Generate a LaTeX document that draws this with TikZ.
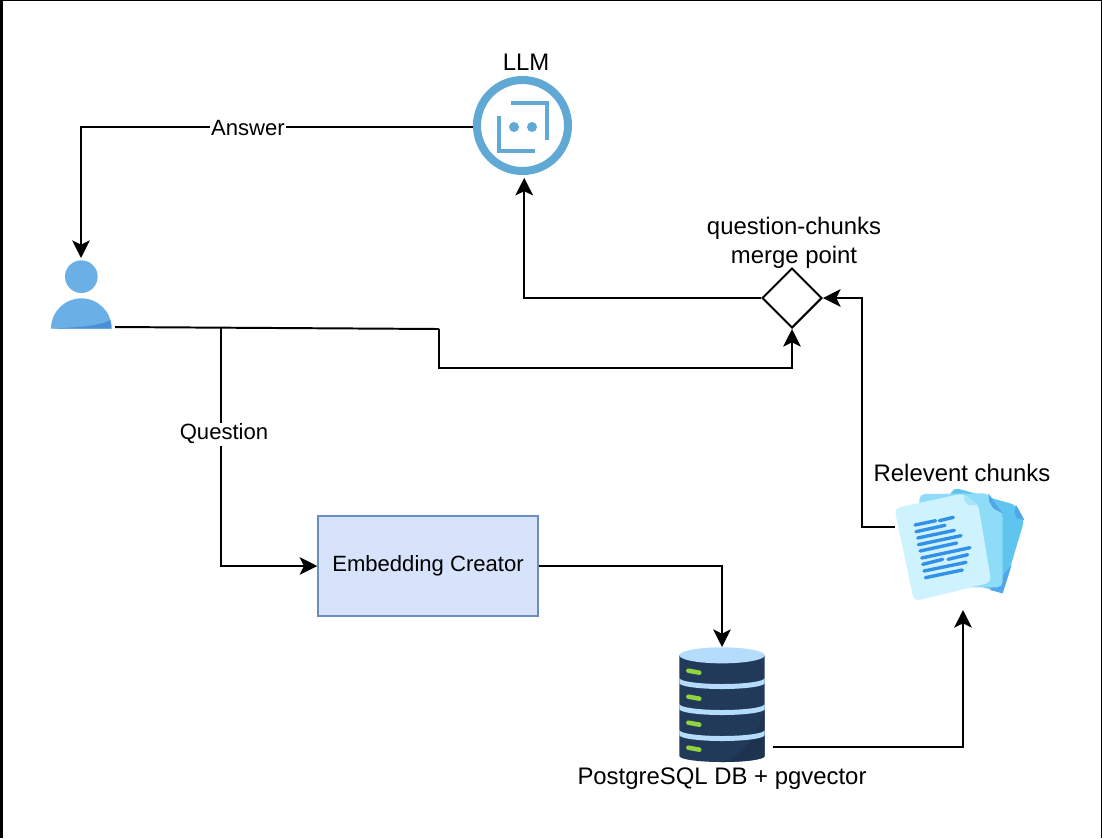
\documentclass[tikz,border=0pt]{standalone}
\usepackage{fontspec}
\setmainfont{Liberation Sans}
\usetikzlibrary{arrows.meta,shapes.geometric}
\definecolor{llmblue}{HTML}{60A9D5}
\definecolor{userblue}{HTML}{6AB0E6}
\definecolor{userdark}{HTML}{4A90D9}
\definecolor{boxfill}{HTML}{D7E3FB}
\definecolor{boxline}{HTML}{6C8EBF}
\definecolor{dbdark}{HTML}{223A5A}
\definecolor{dbdarker}{HTML}{1E3350}
\definecolor{dblight}{HTML}{B5DCFB}
\definecolor{dbgreen}{HTML}{8FD33F}
\definecolor{docfront}{HTML}{CFF3FE}
\definecolor{docfold}{HTML}{A9E4FA}
\definecolor{docmid}{HTML}{8EDCF8}
\definecolor{docback}{HTML}{5FC4EE}
\definecolor{docdark}{HTML}{4FA6EA}
\definecolor{docline}{HTML}{3290E6}
\tikzset{
  linkarrow/.style={line width=1.4pt, -{Stealth[length=12.5pt, width=12.5pt, inset=3pt]}},
  linkplain/.style={line width=1.4pt},
  iconbox/.style={rectangle, inner sep=0pt, outer sep=0pt},
  flowlabel/.style={fill=white, inner sep=1pt, font=\fontsize{15.7pt}{18pt}\selectfont},
  iconlabel/.style={align=center, inner sep=0pt, font=\fontsize{17pt}{20.6pt}\selectfont},
}
\begin{document}
\begin{tikzpicture}[x=0.025cm, y=-0.025cm]
  \useasboundingbox (0,0) rectangle (1102,838);
  \fill[white] (0,0) rectangle (1102,838);
  \fill[black] (0,0) rectangle (3,838);
  \fill[black] (0,0) rectangle (1102,1);
  \fill[black] (1101,0) rectangle (1102,838);

  \node[circle, draw=llmblue, line width=5.7pt, minimum size=2.275cm, inner sep=0pt] (llm) at (522.5,125.5) {};
  \node[iconbox, minimum width=1.7cm, minimum height=1.725cm] (user) at (81,292.5) {};
  \node[diamond, draw, aspect=1, line width=1.4pt, minimum size=1.5cm, inner sep=0pt] (merge) at (792,298) {};
  \node[rectangle, draw=boxline, fill=boxfill, line width=1pt, minimum width=5.5cm, minimum height=2.5cm, font=\fontsize{15.7pt}{18pt}\selectfont] (embed) at (428,566) {\raisebox{-1.2pt}{Embedding Creator}};
  \node[iconbox, minimum width=2.55cm, minimum height=2.5cm] (db) at (722,697) {};
  \node[iconbox, minimum width=3.4cm, minimum height=3.05cm] (docs) at (963,549) {};

  \draw[llmblue, line width=3pt] (511,103) -- (547,103) -- (547,140);
  \draw[llmblue, line width=3pt] (499,116) -- (499,151) -- (535,151);
  \fill[llmblue] (514,127) circle (5) (532,127) circle (5);

  \begin{scope}[shift={(30,230)}, scale=1/3]
    \fill[userblue] (154,140) circle (49);
    \fill[userblue] (63,296) arc[start angle=180, end angle=360, x radius=91, y radius=91];
    \fill[userdark] (63,296) -- (130,292) .. controls (190,288) and (225,280) .. (240,270) .. controls (243,278) and (244,287) .. (244,296) -- cycle;
  \end{scope}

  \begin{scope}[shift={(660,630)}, scale=1/3]
    \fill[dbdark] (58,76) -- (58,378) arc[start angle=180, end angle=0, x radius=128, y radius=18] -- (314,76) -- cycle;
    \fill[dbdarker] (314,240) .. controls (295,320) and (240,380) .. (186,396) arc[start angle=90, end angle=0, x radius=128, y radius=18] -- cycle;
    \foreach \yband in {144,222,300} {
      \fill[dblight] (58,\yband) arc[start angle=180, end angle=0, x radius=128, y radius=18] -- ++(0,15) arc[start angle=0, end angle=180, x radius=128, y radius=18] -- cycle;
    }
    \fill[dblight] (186,76) ellipse[x radius=128, y radius=24];
    \foreach \ygreen in {122,200,278,353} {
      \draw[dbgreen, line width=3.2pt, line cap=round] (85,\ygreen) -- (118,\ygreen+6);
    }
  \end{scope}

  \begin{scope}[shift={(870,470)}, scale=1/3]
    \fill[docback, rounded corners=4pt] (250,52) -- (438,105) -- (463,150) -- (398,368) -- (150,300) -- cycle;
    \fill[docdark] (360,360) -- (398,370) -- (425,285) -- cycle;
    \fill[docdark] (438,105) -- (463,150) -- (440,145) -- (433,125) -- cycle;
    \fill[docmid, rounded corners=4pt] (148,72) -- (355,70) -- (398,130) -- (398,352) -- (150,352) -- cycle;
    \fill[docdark] (355,70) -- (398,130) -- (370,115) -- (358,95) -- cycle;
    \fill[docfront, rounded corners=4pt] (73,115) -- (280,70) -- (325,105) -- (364,337) -- (132,394) -- cycle;
    \fill[docfold] (280,70) -- (325,105) -- (295,105) -- (283,92) -- cycle;
    \foreach \xa/\ya/\xb/\yb in {135/165/197/152, 208/152/250/142, 138/185/225/166, 143/204/253/181, 145/224/273/197, 150/243/260/219, 155/264/300/233, 158/283/218/268, 234/268/293/254, 162/303/288/277, 166/323/277/300} {
      \draw[docline, line width=2.4pt, line cap=round] (\xa,\ya) -- (\xb,\yb);
    }
  \end{scope}

  \coordinate (split) at (221,328);
  \draw[linkarrow] (llm.182) -| (user.north);
  \draw[linkplain] (user.south east) -- (439,329);
  \draw[linkarrow] (439,329) -- (439,368) -| (merge.south);
  \draw[linkarrow] (split) |- (embed.west);
  \draw[linkarrow] (embed.east) -| (db.north);
  \draw[linkarrow] (db.south east) -| (docs.south);
  \draw[linkarrow] (docs.162) -- ++(-33,0) |- (merge.east);
  \draw[linkarrow, shorten >=2pt] (merge.west) -| (llm.272);

  \node[flowlabel] (answer) at (248,128) {Answer};
  \node[flowlabel] (question) at (224,434) {Question};
  \node[iconlabel] (llmtext) at (526,62) {LLM};
  \node[iconlabel] (mergetext) at (794,242.5) {question-chunks\\merge point};
  \node[iconlabel] (docstext) at (962,473) {Relevent chunks};
  \node[iconlabel] (dbtext) at (722,779) {PostgreSQL DB + pgvector};
\end{tikzpicture}
\end{document}
